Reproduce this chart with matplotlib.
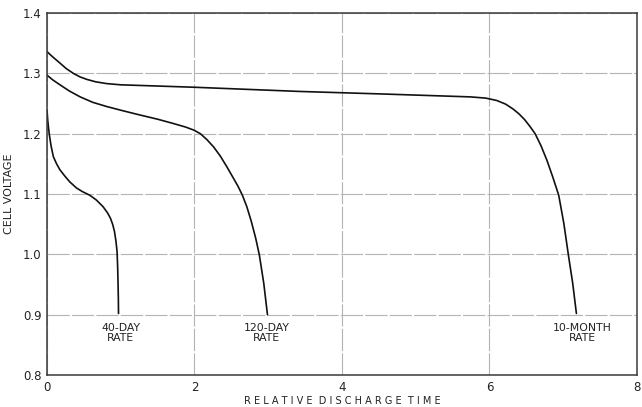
import matplotlib
matplotlib.use("Agg")
import matplotlib.pyplot as plt

# Discharge curves: relative discharge time vs. cell voltage
t_40day = [0.0, 0.01, 0.03, 0.055, 0.086, 0.13, 0.176, 0.24, 0.31, 0.40, 0.48, 0.58, 0.67, 0.76, 0.82, 0.86, 0.89, 0.915, 0.935, 0.95, 0.958, 0.964, 0.968, 0.97]
v_40day = [1.239, 1.222, 1.200, 1.180, 1.162, 1.150, 1.140, 1.130, 1.120, 1.110, 1.104, 1.098, 1.090, 1.079, 1.069, 1.060, 1.050, 1.038, 1.022, 1.005, 0.980, 0.950, 0.925, 0.902]

t_120day = [0.0, 0.08, 0.176, 0.3, 0.45, 0.62, 0.81, 1.03, 1.26, 1.5, 1.71, 1.88, 1.99, 2.08, 2.17, 2.26, 2.35, 2.44, 2.52, 2.59, 2.65, 2.71, 2.77, 2.83, 2.88, 2.94, 2.99]
v_120day = [1.297, 1.289, 1.281, 1.271, 1.261, 1.252, 1.245, 1.238, 1.231, 1.224, 1.217, 1.211, 1.206, 1.200, 1.190, 1.178, 1.163, 1.145, 1.128, 1.113, 1.098, 1.079, 1.055, 1.027, 0.999, 0.952, 0.900]

t_10month = [0.0, 0.08, 0.176, 0.26, 0.357, 0.45, 0.54, 0.66, 0.81, 1.0, 1.99, 3.43, 4.5, 5.74, 5.95, 6.1, 6.22, 6.32, 6.40, 6.48, 6.55, 6.62, 6.70, 6.78, 6.86, 6.94, 7.01, 7.07, 7.13, 7.18]
v_10month = [1.336, 1.327, 1.317, 1.308, 1.300, 1.294, 1.290, 1.286, 1.283, 1.281, 1.277, 1.270, 1.266, 1.261, 1.259, 1.255, 1.249, 1.241, 1.233, 1.223, 1.212, 1.200, 1.180, 1.156, 1.128, 1.098, 1.051, 1.000, 0.952, 0.902]

curve_labels = ["40-DAY\nRATE", "120-DAY\nRATE", "10-MONTH\nRATE"]
label_x = [1.0, 2.98, 7.26]

x_ticks = [0, 2, 4, 6, 8]
y_ticks = [0.8, 0.9, 1.0, 1.1, 1.2, 1.3, 1.4]
y_tick_labels = ["0.8", "0.9", "1.0", "1.1", "1.2", "1.3", "1.4"]

fig = plt.figure(figsize=(6.42, 4.07), dpi=100)
ax = fig.add_axes([0.0732, 0.0786, 0.9188, 0.8894])

ax.set_xlim(0, 8)
ax.set_ylim(0.8, 1.4)
ax.set_xticks(x_ticks)
ax.set_yticks(y_ticks)
ax.set_yticklabels(y_tick_labels)
ax.tick_params(length=0, labelsize=8.5, colors="#222222", pad=4)

ax.grid(True, color="#b4b4b4", linewidth=0.8, linestyle=(0, (20, 2)))
ax.set_axisbelow(True)
for side in ax.spines.values():
    side.set_color("#3a3a3a")
    side.set_linewidth(1.1)

line_kw = dict(color="#111111", linewidth=1.2, solid_capstyle="round",
               solid_joinstyle="round")
ax.plot(t_40day, v_40day, **line_kw)
ax.plot(t_120day, v_120day, **line_kw)
ax.plot(t_10month, v_10month, **line_kw)

for txt, xpos in zip(curve_labels, label_x):
    ax.text(xpos, 0.887, txt, ha="center", va="top", fontsize=7.8,
            color="#222222", linespacing=1.0)

ax.set_xlabel("R E L A T I V E   D I S C H A R G E   T I M E".replace("   ", "  "),
              fontsize=7, color="#222222", labelpad=2)
ax.set_ylabel("CELL VOLTAGE", fontsize=8, color="#222222", labelpad=6)

fig.savefig("out.png", dpi=100, facecolor="white")
